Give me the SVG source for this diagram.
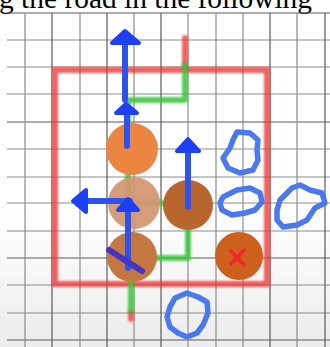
<svg xmlns="http://www.w3.org/2000/svg" width="330" height="347" viewBox="0 0 330 347">
<style>
.grid line{stroke:#8c8c8c;stroke-width:1.2}
.grid line.d{stroke:#5a5a5a}
.red{fill:none;stroke:#f03a3a;stroke-width:6;stroke-opacity:0.8}
.road{fill:none;stroke:#38c43a;stroke-width:6;stroke-opacity:0.85;stroke-linejoin:round}
.arr{fill:none;stroke:#2f52ea;stroke-width:6;stroke-linecap:round}
.head{fill:#1d3ff2;stroke:#1d3ff2;stroke-width:4;stroke-linejoin:round}
.blob{fill:none;stroke:#4a78f0;stroke-width:5.5;stroke-linejoin:round;stroke-linecap:round}
</style>
<defs>
<filter id="soft" x="-10%" y="-10%" width="120%" height="120%"><feGaussianBlur stdDeviation="1"/></filter>
<filter id="soft2" x="-10%" y="-10%" width="120%" height="120%"><feGaussianBlur stdDeviation="0.5"/></filter>
<linearGradient id="bg" x1="0" y1="0" x2="0" y2="1"><stop offset="0.6" stop-color="#ffffff"/><stop offset="1" stop-color="#ececec"/></linearGradient>
</defs>
<rect width="330" height="347" fill="url(#bg)"/>
<text x="-1" y="8" font-family="Liberation Serif, serif" font-size="29" textLength="313" lengthAdjust="spacingAndGlyphs" fill="#000">g the road in the following</text>
<g class="grid" id="grid">
<line x1="7" y1="13" x2="330" y2="13" class="d"/>
<line x1="7" y1="40" x2="330" y2="40"/>
<line x1="7" y1="67" x2="330" y2="67"/>
<line x1="7" y1="94" x2="330" y2="94"/>
<line x1="7" y1="122" x2="330" y2="122" class="d"/>
<line x1="7" y1="149" x2="330" y2="149"/>
<line x1="7" y1="177" x2="330" y2="177"/>
<line x1="7" y1="203" x2="330" y2="203"/>
<line x1="7" y1="231" x2="330" y2="231"/>
<line x1="7" y1="258" x2="330" y2="258" class="d"/>
<line x1="7" y1="285" x2="330" y2="285"/>
<line x1="7" y1="313" x2="330" y2="313"/>
<line x1="7" y1="340" x2="330" y2="340" class="d"/>
<line x1="25" y1="13" x2="25" y2="347"/>
<line x1="52" y1="13" x2="52" y2="347" class="d"/>
<line x1="80" y1="13" x2="80" y2="347"/>
<line x1="107" y1="13" x2="107" y2="347" class="d"/>
<line x1="134" y1="13" x2="134" y2="347"/>
<line x1="161" y1="13" x2="161" y2="347" class="d"/>
<line x1="188" y1="13" x2="188" y2="347"/>
<line x1="216" y1="13" x2="216" y2="347"/>
<line x1="243" y1="13" x2="243" y2="347"/>
<line x1="270" y1="13" x2="270" y2="347" class="d"/>
<line x1="297" y1="13" x2="297" y2="347"/>
<line x1="325" y1="13" x2="325" y2="347" class="d"/>
</g>
<g id="boundary" filter="url(#soft)">
<rect x="55" y="70" width="212" height="214" class="red"/>
<line x1="185" y1="38" x2="185" y2="66" class="red" stroke-linecap="round"/>
<line x1="131" y1="312" x2="131" y2="319" class="red" stroke-linecap="round"/>
</g>
<g id="road" filter="url(#soft)">
<path class="road" d="M185,62 V100 H128 V203 H188 V258 H131 V313"/>
</g>
<g id="tiles" filter="url(#soft2)">
<g id="c1"><circle cx="132" cy="149" r="26" fill="#ec8443"/></g>
<g id="c2"><circle cx="134" cy="203" r="26" fill="#d39670" fill-opacity="0.93"/></g>
<g id="c3"><circle cx="188" cy="205" r="25" fill="#b9652f"/></g>
<g id="c4"><circle cx="132" cy="257" r="25" fill="#c4773f"/></g>
<g id="c5"><circle cx="239" cy="256" r="24" fill="#cd601c"/>
<path d="M231,251 L244,265 M244,250 L231,264" stroke="#f2282a" stroke-width="3.5" stroke-linecap="round" fill="none"/></g>
</g>
<g id="connectors" filter="url(#soft2)">
<g id="a1"><line x1="125" y1="100" x2="125" y2="45" class="arr"/><polygon points="125,31 112,43 139,43" class="head"/></g>
<g id="a2"><line x1="127" y1="146" x2="127" y2="113" class="arr"/><polygon points="126,104 116,113 137,113" class="head"/></g>
<g id="a3"><line x1="130" y1="201" x2="86" y2="201" class="arr"/><polygon points="73,201 86,190 86,212" class="head"/></g>
<g id="a4"><line x1="128" y1="268" x2="128" y2="210" class="arr"/><polygon points="128,199 118,210 138,210" class="head"/></g>
<g id="a5"><line x1="188" y1="207" x2="188" y2="152" class="arr"/><polygon points="188,139 177,151 199,151" class="head"/></g>
<line x1="109" y1="250" x2="142" y2="271" stroke="#4336c2" stroke-width="6" stroke-linecap="round"/>
</g>
<g id="blobs" filter="url(#soft2)">
<path class="blob" d="M237,132 L250,133 L258,140 L257,150 L258,160 L253,170 L240,173 L228,168 L223,158 L230,148 L233,140 Z"/>
<path class="blob" d="M223,197 L237,190 L250,188 L260,193 L262,202 L255,210 L245,213 L232,215 L222,210 L220,203 Z"/>
<path class="blob" d="M277,210 L280,200 L292,188 L300,185 L310,190 L322,193 L325,203 L315,208 L307,220 L297,225 L283,227 L277,220 Z"/>
<path class="blob" d="M175,298 L187,293 L198,297 L207,302 L208,313 L203,325 L197,333 L187,337 L178,333 L170,327 L167,317 L170,307 Z"/>
</g>
</svg>
